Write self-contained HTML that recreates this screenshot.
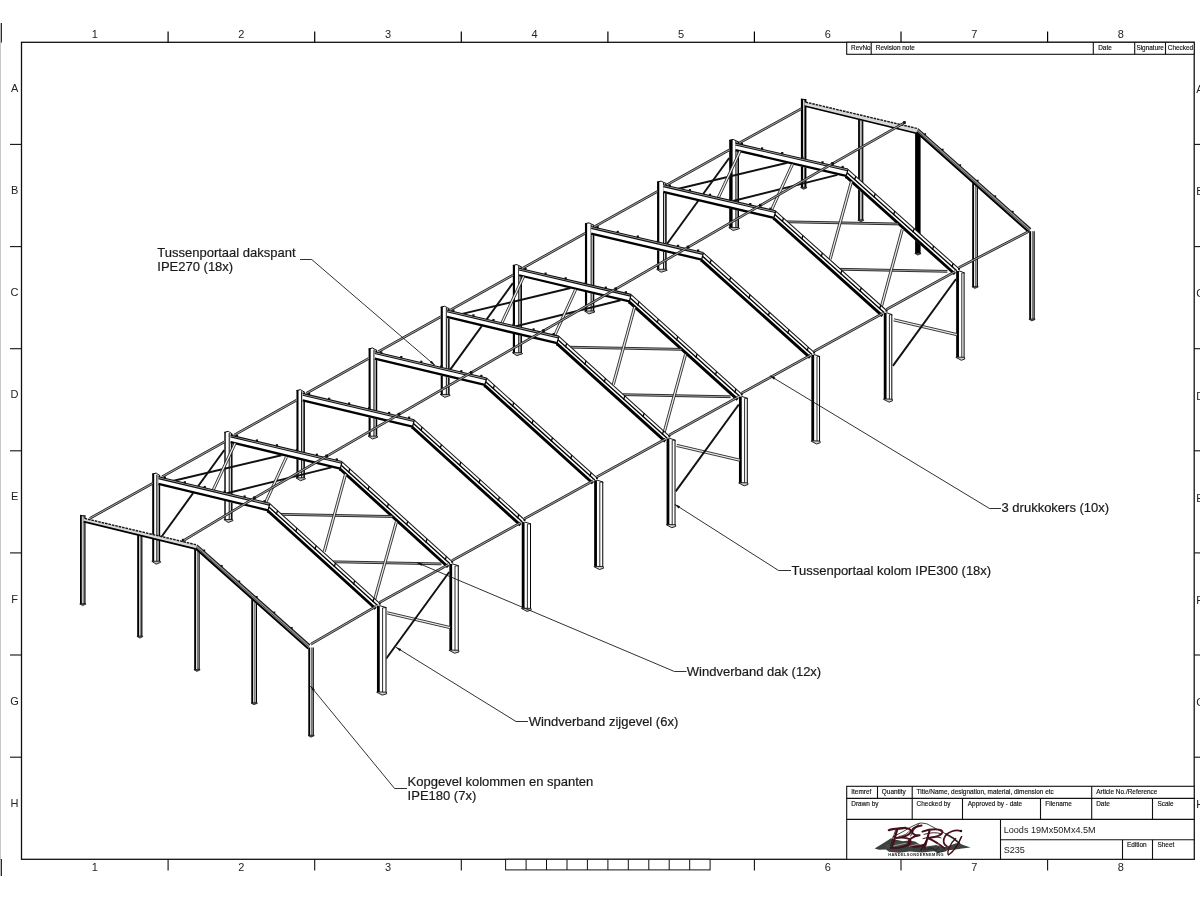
<!DOCTYPE html>
<html><head><meta charset="utf-8"><title>Loods 19Mx50Mx4.5M</title>
<style>
html,body{margin:0;padding:0;background:#fff;}
body{width:1200px;height:900px;overflow:hidden;font-family:"Liberation Sans",sans-serif;}
svg{display:block;will-change:transform;}
text{font-family:"Liberation Sans",sans-serif;fill:#111;}
.z{font-size:11px;fill:#222;}
.s{font-size:6.45px;fill:#111;stroke:#111;stroke-width:0.15;}
.m{font-size:9.1px;fill:#222;}
.l{font-size:13px;fill:#1a1a1a;stroke:#1a1a1a;stroke-width:0.2;}
</style></head><body>
<svg width="1200" height="900" viewBox="0 0 1200 900">
<rect width="1200" height="900" fill="#fff"/>
<g id="frame">
<line x1="0.5" y1="42" x2="0.5" y2="860" stroke="#c8c8c8" stroke-width="1"/>
<line x1="1.3" y1="23" x2="1.3" y2="42.5" stroke="#111" stroke-width="1.2"/>
<line x1="1.3" y1="859" x2="1.3" y2="876" stroke="#111" stroke-width="1.2"/>
<rect x="21.5" y="42.3" width="1172.7" height="817.0" fill="none" stroke="#111" stroke-width="1.3"/>
<line x1="168.1" y1="31.5" x2="168.1" y2="42.3" stroke="#000" stroke-width="1.2"/>
<line x1="168.1" y1="859.3" x2="168.1" y2="870.5" stroke="#111" stroke-width="1.1"/>
<line x1="10" y1="144.4" x2="21.5" y2="144.4" stroke="#111" stroke-width="1.1"/>
<line x1="1194.2" y1="144.4" x2="1200" y2="144.4" stroke="#111" stroke-width="1.1"/>
<line x1="314.7" y1="31.5" x2="314.7" y2="42.3" stroke="#000" stroke-width="1.2"/>
<line x1="314.7" y1="859.3" x2="314.7" y2="870.5" stroke="#111" stroke-width="1.1"/>
<line x1="10" y1="246.6" x2="21.5" y2="246.6" stroke="#111" stroke-width="1.1"/>
<line x1="1194.2" y1="246.6" x2="1200" y2="246.6" stroke="#111" stroke-width="1.1"/>
<line x1="461.3" y1="31.5" x2="461.3" y2="42.3" stroke="#000" stroke-width="1.2"/>
<line x1="461.3" y1="859.3" x2="461.3" y2="870.5" stroke="#111" stroke-width="1.1"/>
<line x1="10" y1="348.7" x2="21.5" y2="348.7" stroke="#111" stroke-width="1.1"/>
<line x1="1194.2" y1="348.7" x2="1200" y2="348.7" stroke="#111" stroke-width="1.1"/>
<line x1="607.9" y1="31.5" x2="607.9" y2="42.3" stroke="#000" stroke-width="1.2"/>
<line x1="10" y1="450.8" x2="21.5" y2="450.8" stroke="#111" stroke-width="1.1"/>
<line x1="1194.2" y1="450.8" x2="1200" y2="450.8" stroke="#111" stroke-width="1.1"/>
<line x1="754.4" y1="31.5" x2="754.4" y2="42.3" stroke="#000" stroke-width="1.2"/>
<line x1="754.4" y1="859.3" x2="754.4" y2="870.5" stroke="#111" stroke-width="1.1"/>
<line x1="10" y1="552.9" x2="21.5" y2="552.9" stroke="#111" stroke-width="1.1"/>
<line x1="1194.2" y1="552.9" x2="1200" y2="552.9" stroke="#111" stroke-width="1.1"/>
<line x1="901.0" y1="31.5" x2="901.0" y2="42.3" stroke="#000" stroke-width="1.2"/>
<line x1="901.0" y1="859.3" x2="901.0" y2="870.5" stroke="#111" stroke-width="1.1"/>
<line x1="10" y1="655.0" x2="21.5" y2="655.0" stroke="#111" stroke-width="1.1"/>
<line x1="1194.2" y1="655.0" x2="1200" y2="655.0" stroke="#111" stroke-width="1.1"/>
<line x1="1047.6" y1="31.5" x2="1047.6" y2="42.3" stroke="#000" stroke-width="1.2"/>
<line x1="1047.6" y1="859.3" x2="1047.6" y2="870.5" stroke="#111" stroke-width="1.1"/>
<line x1="10" y1="757.2" x2="21.5" y2="757.2" stroke="#111" stroke-width="1.1"/>
<line x1="1194.2" y1="757.2" x2="1200" y2="757.2" stroke="#111" stroke-width="1.1"/>
<text x="94.8" y="38.2" class="z" text-anchor="middle">1</text>
<text x="94.8" y="871" class="z" text-anchor="middle">1</text>
<text x="14.6" y="91.9" class="z" text-anchor="middle">A</text>
<text x="1196.3" y="93.2" class="z">A</text>
<text x="241.4" y="38.2" class="z" text-anchor="middle">2</text>
<text x="241.4" y="871" class="z" text-anchor="middle">2</text>
<text x="14.6" y="194.0" class="z" text-anchor="middle">B</text>
<text x="1196.3" y="195.3" class="z">B</text>
<text x="388.0" y="38.2" class="z" text-anchor="middle">3</text>
<text x="388.0" y="871" class="z" text-anchor="middle">3</text>
<text x="14.6" y="296.1" class="z" text-anchor="middle">C</text>
<text x="1196.3" y="297.4" class="z">C</text>
<text x="534.6" y="38.2" class="z" text-anchor="middle">4</text>
<text x="14.6" y="398.2" class="z" text-anchor="middle">D</text>
<text x="1196.3" y="399.5" class="z">D</text>
<text x="681.1" y="38.2" class="z" text-anchor="middle">5</text>
<text x="14.6" y="500.4" class="z" text-anchor="middle">E</text>
<text x="1196.3" y="501.7" class="z">E</text>
<text x="827.7" y="38.2" class="z" text-anchor="middle">6</text>
<text x="827.7" y="871" class="z" text-anchor="middle">6</text>
<text x="14.6" y="602.5" class="z" text-anchor="middle">F</text>
<text x="1196.3" y="603.8" class="z">F</text>
<text x="974.3" y="38.2" class="z" text-anchor="middle">7</text>
<text x="974.3" y="871" class="z" text-anchor="middle">7</text>
<text x="14.6" y="704.6" class="z" text-anchor="middle">G</text>
<text x="1196.3" y="705.9" class="z">G</text>
<text x="1120.9" y="38.2" class="z" text-anchor="middle">8</text>
<text x="1120.9" y="871" class="z" text-anchor="middle">8</text>
<text x="14.6" y="806.7" class="z" text-anchor="middle">H</text>
<text x="1196.3" y="808.0" class="z">H</text>
<rect x="505.6" y="859.3" width="204.5" height="10.6" fill="#fff" stroke="#111" stroke-width="1"/>
<line x1="526.1" y1="859.3" x2="526.1" y2="869.9" stroke="#111" stroke-width="1"/>
<line x1="546.5" y1="859.3" x2="546.5" y2="869.9" stroke="#111" stroke-width="1"/>
<line x1="567.0" y1="859.3" x2="567.0" y2="869.9" stroke="#111" stroke-width="1"/>
<line x1="587.4" y1="859.3" x2="587.4" y2="869.9" stroke="#111" stroke-width="1"/>
<line x1="607.9" y1="859.3" x2="607.9" y2="869.9" stroke="#111" stroke-width="1"/>
<line x1="628.3" y1="859.3" x2="628.3" y2="869.9" stroke="#111" stroke-width="1"/>
<line x1="648.8" y1="859.3" x2="648.8" y2="869.9" stroke="#111" stroke-width="1"/>
<line x1="669.2" y1="859.3" x2="669.2" y2="869.9" stroke="#111" stroke-width="1"/>
<line x1="689.7" y1="859.3" x2="689.7" y2="869.9" stroke="#111" stroke-width="1"/>
<rect x="846.7" y="42.3" width="347.5" height="12" fill="#fff" stroke="#111" stroke-width="1.1"/>
<line x1="871.2" y1="42.3" x2="871.2" y2="54.3" stroke="#111" stroke-width="1.1"/>
<line x1="1093.3" y1="42.3" x2="1093.3" y2="54.3" stroke="#111" stroke-width="1.1"/>
<line x1="1134.7" y1="42.3" x2="1134.7" y2="54.3" stroke="#111" stroke-width="1.1"/>
<line x1="1165.5" y1="42.3" x2="1165.5" y2="54.3" stroke="#111" stroke-width="1.1"/>
<text x="851.0" y="50.3" class="s">RevNo</text>
<text x="875.8" y="50.3" class="s">Revision note</text>
<text x="1098.2" y="50.3" class="s">Date</text>
<text x="1136.4" y="50.3" class="s">Signature</text>
<text x="1167.8" y="50.3" class="s">Checked</text>
<rect x="846.7" y="786.3" width="347.5" height="73.0" fill="#fff" stroke="#111" stroke-width="1.1"/>
<line x1="846.7" y1="798.4" x2="1194.2" y2="798.4" stroke="#111" stroke-width="1.1"/>
<line x1="846.7" y1="819.4" x2="1194.2" y2="819.4" stroke="#111" stroke-width="1.1"/>
<line x1="1000.5" y1="839.8" x2="1194.2" y2="839.8" stroke="#111" stroke-width="1.1"/>
<line x1="877.5" y1="786.3" x2="877.5" y2="798.4" stroke="#111" stroke-width="1.1"/>
<line x1="912.2" y1="786.3" x2="912.2" y2="798.4" stroke="#111" stroke-width="1.1"/>
<line x1="1091.7" y1="786.3" x2="1091.7" y2="798.4" stroke="#111" stroke-width="1.1"/>
<line x1="912.2" y1="798.4" x2="912.2" y2="819.4" stroke="#111" stroke-width="1.1"/>
<line x1="962.5" y1="798.4" x2="962.5" y2="819.4" stroke="#111" stroke-width="1.1"/>
<line x1="1040.5" y1="798.4" x2="1040.5" y2="819.4" stroke="#111" stroke-width="1.1"/>
<line x1="1091.7" y1="798.4" x2="1091.7" y2="819.4" stroke="#111" stroke-width="1.1"/>
<line x1="1152.5" y1="798.4" x2="1152.5" y2="819.4" stroke="#111" stroke-width="1.1"/>
<line x1="1000.5" y1="819.4" x2="1000.5" y2="859.3" stroke="#111" stroke-width="1.1"/>
<line x1="1122.5" y1="839.8" x2="1122.5" y2="859.3" stroke="#111" stroke-width="1.1"/>
<line x1="1152.5" y1="839.8" x2="1152.5" y2="859.3" stroke="#111" stroke-width="1.1"/>
<text x="851.3" y="793.6" class="s">Itemref</text>
<text x="881.8" y="793.6" class="s">Quantity</text>
<text x="916.6" y="793.6" class="s">Title/Name, designation, material, dimension etc</text>
<text x="1096.2" y="793.6" class="s">Article No./Reference</text>
<text x="851.3" y="805.8" class="s">Drawn by</text>
<text x="916.6" y="805.8" class="s">Checked by</text>
<text x="967.8" y="805.8" class="s">Approved by - date</text>
<text x="1045.3" y="805.8" class="s">Filename</text>
<text x="1096.2" y="805.8" class="s">Date</text>
<text x="1157.5" y="805.8" class="s">Scale</text>
<text x="1127" y="847.0" class="s">Edition</text>
<text x="1157.5" y="847.0" class="s">Sheet</text>
<text x="1003.7" y="832.6" class="m">Loods 19Mx50Mx4.5M</text>
<text x="1003.7" y="853.4" class="m">S235</text>
</g>
<g id="structure" stroke-linecap="butt">
<rect x="800.9" y="99" width="5.5" height="88.9" fill="#e8e8e8"/>
<line x1="802" y1="99" x2="802" y2="187.9" stroke="#000" stroke-width="2.2" />
<line x1="805.4" y1="99" x2="805.4" y2="187.9" stroke="#000" stroke-width="2.0" />
<polygon points="800.6,187.6 803.5,189.3 806.8,187.9 806.4,187.1" fill="#555" stroke="#111" stroke-width="0.7" />
<rect x="858.1" y="118.2" width="5.2" height="102.2" fill="#e4e4e4"/>
<line x1="859" y1="118.2" x2="859" y2="220.4" stroke="#000" stroke-width="1.8" />
<line x1="862.7" y1="118.2" x2="862.7" y2="220.4" stroke="#000" stroke-width="1.2" />
<line x1="861.2" y1="118.2" x2="861.2" y2="220.4" stroke="#555" stroke-width="0.8" />
<polygon points="857.8,220.1 860.7,221.8 863.7,220.4 863.3,219.6" fill="#555" stroke="#111" stroke-width="0.7" />
<rect x="915.1" y="132.2" width="5.5" height="121.5" fill="#000"/>
<polygon points="914.8,253.4 917.7,255.1 921,253.7 920.6,252.9" fill="#555" stroke="#111" stroke-width="0.7" />
<rect x="972.2" y="182.7" width="5.7" height="104.3" fill="#e4e4e4"/>
<line x1="973.1" y1="182.7" x2="973.1" y2="287" stroke="#000" stroke-width="1.8" />
<line x1="977.3" y1="182.7" x2="977.3" y2="287" stroke="#000" stroke-width="1.2" />
<line x1="975.55" y1="182.7" x2="975.55" y2="287" stroke="#555" stroke-width="0.8" />
<polygon points="971.9,286.7 974.8,288.4 978.3,287 977.9,286.2" fill="#555" stroke="#111" stroke-width="0.7" />
<rect x="1029.2" y="231.2" width="5.5" height="88.3" fill="#e4e4e4"/>
<line x1="1030.1" y1="231.2" x2="1030.1" y2="319.5" stroke="#000" stroke-width="1.8" />
<line x1="1034.1" y1="231.2" x2="1034.1" y2="319.5" stroke="#000" stroke-width="1.2" />
<line x1="1032.45" y1="231.2" x2="1032.45" y2="319.5" stroke="#555" stroke-width="0.8" />
<polygon points="1028.9,319.2 1031.8,320.9 1035.1,319.5 1034.7,318.7" fill="#555" stroke="#111" stroke-width="0.7" />
<polygon points="804.5,101.9 917.9,128.6 917.3,133.9 804.5,106.4" fill="#d8d8d8" stroke="none" stroke-width="1" />
<line x1="805.5" y1="102.1" x2="916.9" y2="128.4" stroke="#1a1a1a" stroke-width="1.45" stroke-dasharray="2.6 0.9"/>
<line x1="804.5" y1="106" x2="917.3" y2="133.5" stroke="#000" stroke-width="1.7" />
<polygon points="917.9,128.6 1030.9,228.7 1028.7,232.9 916.3,133" fill="#a2a2a2" stroke="none" stroke-width="1" />
<line x1="917.9" y1="128.6" x2="1030.9" y2="228.7" stroke="#1a1a1a" stroke-width="1.2" />
<line x1="917.1" y1="130.5" x2="1029.9" y2="230.6" stroke="#333" stroke-width="0.8" />
<line x1="916.5" y1="132.2" x2="1029.1" y2="232.3" stroke="#000" stroke-width="1.9" />
<rect x="924.28" y="133.21" width="1.8" height="1.8" fill="#111"/>
<rect x="941.8" y="148.72" width="1.8" height="1.8" fill="#111"/>
<rect x="959.31" y="164.24" width="1.8" height="1.8" fill="#111"/>
<rect x="976.83" y="179.75" width="1.8" height="1.8" fill="#111"/>
<rect x="994.34" y="195.27" width="1.8" height="1.8" fill="#111"/>
<rect x="1011.86" y="210.78" width="1.8" height="1.8" fill="#111"/>
<line x1="800.9" y1="99" x2="805.5" y2="99.7" stroke="#000" stroke-width="1" />
<polygon points="739.42,143.89 801.62,109.57 800.78,108.03 738.58,142.35" fill="#a4a4a4" stroke="none" stroke-width="1" />
<line x1="739.42" y1="143.89" x2="801.62" y2="109.57" stroke="#1c1c1c" stroke-width="0.9" />
<line x1="738.58" y1="142.35" x2="800.78" y2="108.03" stroke="#1c1c1c" stroke-width="0.9" />
<polygon points="832.99,164.44 904.93,123.46 904.07,121.94 832.13,162.92" fill="#a4a4a4" stroke="none" stroke-width="1" />
<line x1="832.99" y1="164.44" x2="904.93" y2="123.46" stroke="#1c1c1c" stroke-width="0.9" />
<line x1="832.13" y1="162.92" x2="904.07" y2="121.94" stroke="#1c1c1c" stroke-width="0.9" />
<rect x="903.2" y="121.1" width="2.6" height="2.8" fill="#111"/>
<polygon points="959.1,268.48 1028.7,232.48 1027.9,230.92 958.3,266.92" fill="#a4a4a4" stroke="none" stroke-width="1" />
<line x1="959.1" y1="268.48" x2="1028.7" y2="232.48" stroke="#1c1c1c" stroke-width="0.9" />
<line x1="958.3" y1="266.92" x2="1027.9" y2="230.92" stroke="#1c1c1c" stroke-width="0.9" />
<polygon points="729.2,140.02 738.94,141.52 738.94,228.02 729.2,228.02" fill="#fff" stroke="none" stroke-width="1" />
<rect x="735.88" y="141.02" width="2.56" height="87" fill="#d0d0d0"/>
<line x1="730.9" y1="140.02" x2="730.9" y2="228.02" stroke="#000" stroke-width="3.4" />
<line x1="735.88" y1="141.02" x2="735.88" y2="228.02" stroke="#161616" stroke-width="1.0" />
<line x1="738.29" y1="142.02" x2="738.29" y2="228.02" stroke="#000" stroke-width="1.45" />
<line x1="729.2" y1="140.32" x2="733.2" y2="139.42" stroke="#000" stroke-width="1" />
<line x1="733.2" y1="139.42" x2="738.94" y2="142.02" stroke="#000" stroke-width="0.9" />
<polygon points="728.8,227.62 733.2,230.52 739.54,228.62 738.94,227.52" fill="#bbb" stroke="#111" stroke-width="0.9" />
<polygon points="735.4,143.12 847.96,168.98 846.16,176.98 735.4,151.12" fill="#fff" stroke="none" stroke-width="1" />
<polygon points="735.4,143.12 847.96,168.98 847.46,170.78 735.4,144.92" fill="#b4b4b4" stroke="none" stroke-width="1" />
<line x1="735.4" y1="143.12" x2="847.96" y2="168.98" stroke="#111" stroke-width="1.1" />
<line x1="735.4" y1="144.92" x2="847.46" y2="170.78" stroke="#111" stroke-width="1.1" />
<line x1="735.4" y1="150.12" x2="846.16" y2="175.98" stroke="#000" stroke-width="2.3" />
<rect x="740.83" y="142.72" width="2.2" height="2.2" fill="#111"/>
<rect x="760.98" y="147.35" width="2.2" height="2.2" fill="#111"/>
<rect x="781.12" y="151.98" width="2.2" height="2.2" fill="#111"/>
<rect x="801.27" y="156.61" width="2.2" height="2.2" fill="#111"/>
<rect x="821.42" y="161.24" width="2.2" height="2.2" fill="#111"/>
<rect x="841.57" y="165.86" width="2.2" height="2.2" fill="#111"/>
<polygon points="847.96,169.28 959.2,268.9 954.6,275.3 845.56,177.98" fill="#fff" stroke="none" stroke-width="1" />
<line x1="847.96" y1="169.28" x2="959.2" y2="268.9" stroke="#1a1a1a" stroke-width="1.05" />
<line x1="847.06" y1="172.68" x2="956.8" y2="270.8" stroke="#000" stroke-width="1.35" />
<line x1="845.96" y1="176.48" x2="954.8" y2="274" stroke="#000" stroke-width="2.9" />
<rect x="958" y="268" width="1.9" height="1.9" fill="#111"/>
<line x1="847.96" y1="169.28" x2="845.56" y2="178.28" stroke="#000" stroke-width="1.2" />
<line x1="855.82" y1="176.25" x2="854.52" y2="180.05" stroke="#000" stroke-width="1.3" />
<line x1="875.29" y1="193.69" x2="873.99" y2="197.49" stroke="#000" stroke-width="1.3" />
<line x1="894.76" y1="211.12" x2="893.46" y2="214.92" stroke="#000" stroke-width="1.3" />
<line x1="914.23" y1="228.55" x2="912.93" y2="232.35" stroke="#000" stroke-width="1.3" />
<line x1="933.69" y1="245.99" x2="932.39" y2="249.79" stroke="#000" stroke-width="1.3" />
<line x1="953.16" y1="263.42" x2="951.86" y2="267.22" stroke="#000" stroke-width="1.3" />
<polygon points="956.2,271 960.2,270.5 964.48,272.8 964.48,357.6 956.2,357.6" fill="#fff" stroke="none" stroke-width="1" />
<line x1="957.55" y1="271" x2="957.55" y2="357.6" stroke="#000" stroke-width="2.8" />
<line x1="961.8" y1="273" x2="961.8" y2="359.1" stroke="#222" stroke-width="0.95" />
<line x1="964.08" y1="272.8" x2="964.08" y2="358.2" stroke="#000" stroke-width="1.0" />
<line x1="958.8" y1="270.8" x2="964.48" y2="272.8" stroke="#000" stroke-width="0.9" />
<line x1="961.8" y1="273" x2="964.48" y2="272.8" stroke="#000" stroke-width="0.7" />
<polygon points="955.9,357.4 961.4,360.3 964.78,359 964.48,357.3 956.2,357.1" fill="#ccc" stroke="#111" stroke-width="0.9" />
<line x1="729.2" y1="158.02" x2="665.88" y2="245.53" stroke="#111" stroke-width="1.95" />
<line x1="664.88" y1="192.03" x2="787.36" y2="162.68" stroke="#111" stroke-width="1.95" />
<line x1="716.88" y1="205.03" x2="837.36" y2="174.88" stroke="#111" stroke-width="1.95" />
<polygon points="739.03,150.86 716.6,198.77 718.55,199.69 740.97,151.78" fill="#ececec" stroke="none" stroke-width="1" />
<line x1="739.03" y1="150.86" x2="716.6" y2="198.77" stroke="#1a1a1a" stroke-width="0.85" />
<line x1="740.97" y1="151.78" x2="718.55" y2="199.69" stroke="#1a1a1a" stroke-width="0.85" />
<polygon points="791.38,163.93 770.21,210.22 772.17,211.12 793.34,164.83" fill="#ececec" stroke="none" stroke-width="1" />
<line x1="791.38" y1="163.93" x2="770.21" y2="210.22" stroke="#1a1a1a" stroke-width="0.85" />
<line x1="793.34" y1="164.83" x2="772.17" y2="211.12" stroke="#1a1a1a" stroke-width="0.85" />
<polygon points="784.17,222.67 898.14,224.88 898.18,223.08 784.21,220.87" fill="#b0b0b0" stroke="none" stroke-width="1" />
<line x1="784.17" y1="222.67" x2="898.14" y2="224.88" stroke="#111" stroke-width="0.85" />
<line x1="784.21" y1="220.87" x2="898.18" y2="223.08" stroke="#111" stroke-width="0.85" />
<polygon points="850.42,181.29 829.05,258.88 831.13,259.46 852.5,181.87" fill="#ececec" stroke="none" stroke-width="1" />
<line x1="850.42" y1="181.29" x2="829.05" y2="258.88" stroke="#1a1a1a" stroke-width="0.85" />
<line x1="852.5" y1="181.87" x2="831.13" y2="259.46" stroke="#1a1a1a" stroke-width="0.85" />
<polygon points="839.17,270.17 947.34,272.28 947.38,270.48 839.21,268.37" fill="#b0b0b0" stroke="none" stroke-width="1" />
<line x1="839.17" y1="270.17" x2="947.34" y2="272.28" stroke="#111" stroke-width="0.85" />
<line x1="839.21" y1="268.37" x2="947.38" y2="270.48" stroke="#111" stroke-width="0.85" />
<polygon points="901.32,228.8 879.16,310.77 881.24,311.33 903.4,229.36" fill="#ececec" stroke="none" stroke-width="1" />
<line x1="901.32" y1="228.8" x2="879.16" y2="310.77" stroke="#1a1a1a" stroke-width="0.85" />
<line x1="903.4" y1="229.36" x2="881.24" y2="311.33" stroke="#1a1a1a" stroke-width="0.85" />
<polygon points="893.55,320.9 956.55,335.65 957.05,333.55 894.05,318.8" fill="#ececec" stroke="none" stroke-width="1" />
<line x1="893.55" y1="320.9" x2="956.55" y2="335.65" stroke="#1a1a1a" stroke-width="0.85" />
<line x1="894.05" y1="318.8" x2="957.05" y2="333.55" stroke="#1a1a1a" stroke-width="0.85" />
<line x1="956" y1="279" x2="892.9" y2="365.85" stroke="#111" stroke-width="1.95" />
<polygon points="667.3,185.59 729.93,150.58 729.07,149.06 666.45,184.07" fill="#a4a4a4" stroke="none" stroke-width="1" />
<line x1="667.3" y1="185.59" x2="729.93" y2="150.58" stroke="#1c1c1c" stroke-width="0.9" />
<line x1="666.45" y1="184.07" x2="729.07" y2="149.06" stroke="#1c1c1c" stroke-width="0.9" />
<polygon points="760.73,206.23 833,164.44 832.12,162.92 759.85,204.71" fill="#a4a4a4" stroke="none" stroke-width="1" />
<line x1="760.73" y1="206.23" x2="833" y2="164.44" stroke="#1c1c1c" stroke-width="0.9" />
<line x1="759.85" y1="204.71" x2="832.12" y2="162.92" stroke="#1c1c1c" stroke-width="0.9" />
<rect x="831.26" y="162.08" width="2.6" height="2.8" fill="#111"/>
<polygon points="886.72,310.32 955.72,272.27 954.88,270.73 885.88,308.78" fill="#a4a4a4" stroke="none" stroke-width="1" />
<line x1="886.72" y1="310.32" x2="955.72" y2="272.27" stroke="#1c1c1c" stroke-width="0.9" />
<line x1="885.88" y1="308.78" x2="954.88" y2="270.73" stroke="#1c1c1c" stroke-width="0.9" />
<polygon points="657.08,181.73 666.59,183.23 666.59,269.73 657.08,269.73" fill="#fff" stroke="none" stroke-width="1" />
<rect x="663.5" y="182.73" width="2.59" height="87" fill="#d0d0d0"/>
<line x1="658.18" y1="181.73" x2="658.18" y2="269.73" stroke="#000" stroke-width="2.21" />
<line x1="663.5" y1="182.73" x2="663.5" y2="269.73" stroke="#161616" stroke-width="1.0" />
<line x1="665.94" y1="183.73" x2="665.94" y2="269.73" stroke="#000" stroke-width="1.45" />
<line x1="657.08" y1="182.03" x2="661.08" y2="181.13" stroke="#000" stroke-width="1" />
<line x1="661.08" y1="181.13" x2="666.59" y2="183.73" stroke="#000" stroke-width="0.9" />
<polygon points="656.68,269.33 661.08,272.23 667.19,270.33 666.59,269.23" fill="#bbb" stroke="#111" stroke-width="0.9" />
<polygon points="663.28,184.83 775.69,210.77 773.89,218.77 663.28,192.83" fill="#fff" stroke="none" stroke-width="1" />
<polygon points="663.28,184.83 775.69,210.77 775.19,212.57 663.28,186.63" fill="#b4b4b4" stroke="none" stroke-width="1" />
<line x1="663.28" y1="184.83" x2="775.69" y2="210.77" stroke="#111" stroke-width="1.1" />
<line x1="663.28" y1="186.63" x2="775.19" y2="212.57" stroke="#111" stroke-width="1.1" />
<line x1="663.28" y1="191.83" x2="773.89" y2="217.77" stroke="#000" stroke-width="2.3" />
<rect x="668.7" y="184.43" width="2.2" height="2.2" fill="#111"/>
<rect x="688.82" y="189.08" width="2.2" height="2.2" fill="#111"/>
<rect x="708.94" y="193.72" width="2.2" height="2.2" fill="#111"/>
<rect x="729.06" y="198.36" width="2.2" height="2.2" fill="#111"/>
<rect x="749.18" y="203.01" width="2.2" height="2.2" fill="#111"/>
<rect x="769.31" y="207.65" width="2.2" height="2.2" fill="#111"/>
<polygon points="775.69,211.07 886.8,310.75 882.2,317.15 773.29,219.77" fill="#fff" stroke="none" stroke-width="1" />
<line x1="775.69" y1="211.07" x2="886.8" y2="310.75" stroke="#1a1a1a" stroke-width="1.05" />
<line x1="774.79" y1="214.47" x2="884.4" y2="312.65" stroke="#000" stroke-width="1.35" />
<line x1="773.69" y1="218.27" x2="882.4" y2="315.85" stroke="#000" stroke-width="2.9" />
<rect x="885.6" y="309.85" width="1.9" height="1.9" fill="#111"/>
<line x1="775.69" y1="211.07" x2="773.29" y2="220.07" stroke="#000" stroke-width="1.2" />
<line x1="783.55" y1="218.05" x2="782.25" y2="221.85" stroke="#000" stroke-width="1.3" />
<line x1="802.99" y1="235.49" x2="801.69" y2="239.29" stroke="#000" stroke-width="1.3" />
<line x1="822.43" y1="252.94" x2="821.13" y2="256.74" stroke="#000" stroke-width="1.3" />
<line x1="841.88" y1="270.38" x2="840.58" y2="274.18" stroke="#000" stroke-width="1.3" />
<line x1="861.32" y1="287.82" x2="860.02" y2="291.62" stroke="#000" stroke-width="1.3" />
<line x1="880.77" y1="305.27" x2="879.47" y2="309.07" stroke="#000" stroke-width="1.3" />
<polygon points="883.8,312.85 887.8,312.35 892.22,314.65 892.22,399.45 883.8,399.45" fill="#fff" stroke="none" stroke-width="1" />
<line x1="885.15" y1="312.85" x2="885.15" y2="399.45" stroke="#000" stroke-width="2.8" />
<line x1="889.4" y1="314.85" x2="889.4" y2="400.95" stroke="#222" stroke-width="0.95" />
<line x1="891.82" y1="314.65" x2="891.82" y2="400.05" stroke="#000" stroke-width="1.0" />
<line x1="886.4" y1="312.65" x2="892.22" y2="314.65" stroke="#000" stroke-width="0.9" />
<line x1="889.4" y1="314.85" x2="892.22" y2="314.65" stroke="#000" stroke-width="0.7" />
<polygon points="883.5,399.25 889,402.15 892.52,400.85 892.22,399.15 883.8,398.95" fill="#ccc" stroke="#111" stroke-width="0.9" />
<polygon points="595.18,227.3 657.8,192.29 656.95,190.77 594.32,225.78" fill="#a4a4a4" stroke="none" stroke-width="1" />
<line x1="595.18" y1="227.3" x2="657.8" y2="192.29" stroke="#1c1c1c" stroke-width="0.9" />
<line x1="594.32" y1="225.78" x2="656.95" y2="190.77" stroke="#1c1c1c" stroke-width="0.9" />
<polygon points="688.46,248.02 760.73,206.23 759.85,204.71 687.58,246.5" fill="#a4a4a4" stroke="none" stroke-width="1" />
<line x1="688.46" y1="248.02" x2="760.73" y2="206.23" stroke="#1c1c1c" stroke-width="0.9" />
<line x1="687.58" y1="246.5" x2="759.85" y2="204.71" stroke="#1c1c1c" stroke-width="0.9" />
<rect x="758.99" y="203.87" width="2.6" height="2.8" fill="#111"/>
<polygon points="814.32,352.17 883.32,314.12 882.48,312.58 813.48,350.63" fill="#a4a4a4" stroke="none" stroke-width="1" />
<line x1="814.32" y1="352.17" x2="883.32" y2="314.12" stroke="#1c1c1c" stroke-width="0.9" />
<line x1="813.48" y1="350.63" x2="882.48" y2="312.58" stroke="#1c1c1c" stroke-width="0.9" />
<polygon points="584.95,223.44 594.23,224.94 594.23,311.44 584.95,311.44" fill="#fff" stroke="none" stroke-width="1" />
<rect x="591.11" y="224.44" width="2.62" height="87" fill="#d0d0d0"/>
<line x1="586.04" y1="223.44" x2="586.04" y2="311.44" stroke="#000" stroke-width="2.18" />
<line x1="591.11" y1="224.44" x2="591.11" y2="311.44" stroke="#161616" stroke-width="1.0" />
<line x1="593.58" y1="225.44" x2="593.58" y2="311.44" stroke="#000" stroke-width="1.45" />
<line x1="584.95" y1="223.74" x2="588.95" y2="222.84" stroke="#000" stroke-width="1" />
<line x1="588.95" y1="222.84" x2="594.23" y2="225.44" stroke="#000" stroke-width="0.9" />
<polygon points="584.55,311.04 588.95,313.94 594.83,312.04 594.23,310.94" fill="#bbb" stroke="#111" stroke-width="0.9" />
<polygon points="591.15,226.54 703.42,252.56 701.62,260.56 591.15,234.54" fill="#fff" stroke="none" stroke-width="1" />
<polygon points="591.15,226.54 703.42,252.56 702.92,254.36 591.15,228.34" fill="#b4b4b4" stroke="none" stroke-width="1" />
<line x1="591.15" y1="226.54" x2="703.42" y2="252.56" stroke="#111" stroke-width="1.1" />
<line x1="591.15" y1="228.34" x2="702.92" y2="254.36" stroke="#111" stroke-width="1.1" />
<line x1="591.15" y1="233.54" x2="701.62" y2="259.56" stroke="#000" stroke-width="2.3" />
<rect x="596.56" y="226.15" width="2.2" height="2.2" fill="#111"/>
<rect x="616.66" y="230.81" width="2.2" height="2.2" fill="#111"/>
<rect x="636.75" y="235.46" width="2.2" height="2.2" fill="#111"/>
<rect x="656.85" y="240.12" width="2.2" height="2.2" fill="#111"/>
<rect x="676.95" y="244.78" width="2.2" height="2.2" fill="#111"/>
<rect x="697.04" y="249.44" width="2.2" height="2.2" fill="#111"/>
<polygon points="703.42,252.86 814.4,352.6 809.8,359 701.02,261.56" fill="#fff" stroke="none" stroke-width="1" />
<line x1="703.42" y1="252.86" x2="814.4" y2="352.6" stroke="#1a1a1a" stroke-width="1.05" />
<line x1="702.52" y1="256.26" x2="812" y2="354.5" stroke="#000" stroke-width="1.35" />
<line x1="701.42" y1="260.06" x2="810" y2="357.7" stroke="#000" stroke-width="2.9" />
<rect x="813.2" y="351.7" width="1.9" height="1.9" fill="#111"/>
<line x1="703.42" y1="252.86" x2="701.02" y2="261.86" stroke="#000" stroke-width="1.2" />
<line x1="711.27" y1="259.84" x2="709.97" y2="263.64" stroke="#000" stroke-width="1.3" />
<line x1="730.69" y1="277.3" x2="729.39" y2="281.1" stroke="#000" stroke-width="1.3" />
<line x1="750.11" y1="294.75" x2="748.81" y2="298.55" stroke="#000" stroke-width="1.3" />
<line x1="769.53" y1="312.21" x2="768.23" y2="316.01" stroke="#000" stroke-width="1.3" />
<line x1="788.95" y1="329.66" x2="787.65" y2="333.46" stroke="#000" stroke-width="1.3" />
<line x1="808.37" y1="347.11" x2="807.07" y2="350.91" stroke="#000" stroke-width="1.3" />
<polygon points="811.4,354.7 815.4,354.2 819.96,356.5 819.96,441.3 811.4,441.3" fill="#fff" stroke="none" stroke-width="1" />
<line x1="812.75" y1="354.7" x2="812.75" y2="441.3" stroke="#000" stroke-width="2.8" />
<line x1="817" y1="356.7" x2="817" y2="442.8" stroke="#222" stroke-width="0.95" />
<line x1="819.56" y1="356.5" x2="819.56" y2="441.9" stroke="#000" stroke-width="1.0" />
<line x1="814" y1="354.5" x2="819.96" y2="356.5" stroke="#000" stroke-width="0.9" />
<line x1="817" y1="356.7" x2="819.96" y2="356.5" stroke="#000" stroke-width="0.7" />
<polygon points="811.1,441.1 816.6,444 820.26,442.7 819.96,441 811.4,440.8" fill="#ccc" stroke="#111" stroke-width="0.9" />
<polygon points="523.05,269.01 585.68,234 584.82,232.48 522.2,267.49" fill="#a4a4a4" stroke="none" stroke-width="1" />
<line x1="523.05" y1="269.01" x2="585.68" y2="234" stroke="#1c1c1c" stroke-width="0.9" />
<line x1="522.2" y1="267.49" x2="584.82" y2="232.48" stroke="#1c1c1c" stroke-width="0.9" />
<polygon points="616.19,289.81 688.46,248.02 687.58,246.5 615.31,288.29" fill="#a4a4a4" stroke="none" stroke-width="1" />
<line x1="616.19" y1="289.81" x2="688.46" y2="248.02" stroke="#1c1c1c" stroke-width="0.9" />
<line x1="615.31" y1="288.29" x2="687.58" y2="246.5" stroke="#1c1c1c" stroke-width="0.9" />
<rect x="686.72" y="245.66" width="2.6" height="2.8" fill="#111"/>
<polygon points="741.92,394.02 810.92,355.97 810.08,354.43 741.08,392.48" fill="#a4a4a4" stroke="none" stroke-width="1" />
<line x1="741.92" y1="394.02" x2="810.92" y2="355.97" stroke="#1c1c1c" stroke-width="0.9" />
<line x1="741.08" y1="392.48" x2="810.08" y2="354.43" stroke="#1c1c1c" stroke-width="0.9" />
<polygon points="512.83,265.15 521.88,266.65 521.88,353.15 512.83,353.15" fill="#fff" stroke="none" stroke-width="1" />
<rect x="518.73" y="266.15" width="2.65" height="87" fill="#d0d0d0"/>
<line x1="513.9" y1="265.15" x2="513.9" y2="353.15" stroke="#000" stroke-width="2.15" />
<line x1="518.73" y1="266.15" x2="518.73" y2="353.15" stroke="#161616" stroke-width="1.0" />
<line x1="521.23" y1="267.15" x2="521.23" y2="353.15" stroke="#000" stroke-width="1.45" />
<line x1="512.83" y1="265.45" x2="516.83" y2="264.55" stroke="#000" stroke-width="1" />
<line x1="516.83" y1="264.55" x2="521.88" y2="267.15" stroke="#000" stroke-width="0.9" />
<polygon points="512.43,352.75 516.83,355.65 522.48,353.75 521.88,352.65" fill="#bbb" stroke="#111" stroke-width="0.9" />
<polygon points="519.03,268.25 631.15,294.35 629.35,302.35 519.03,276.25" fill="#fff" stroke="none" stroke-width="1" />
<polygon points="519.03,268.25 631.15,294.35 630.65,296.15 519.03,270.05" fill="#b4b4b4" stroke="none" stroke-width="1" />
<line x1="519.03" y1="268.25" x2="631.15" y2="294.35" stroke="#111" stroke-width="1.1" />
<line x1="519.03" y1="270.05" x2="630.65" y2="296.15" stroke="#111" stroke-width="1.1" />
<line x1="519.03" y1="275.25" x2="629.35" y2="301.35" stroke="#000" stroke-width="2.3" />
<rect x="524.43" y="267.86" width="2.2" height="2.2" fill="#111"/>
<rect x="544.5" y="272.54" width="2.2" height="2.2" fill="#111"/>
<rect x="564.57" y="277.21" width="2.2" height="2.2" fill="#111"/>
<rect x="584.64" y="281.88" width="2.2" height="2.2" fill="#111"/>
<rect x="604.71" y="286.55" width="2.2" height="2.2" fill="#111"/>
<rect x="624.78" y="291.22" width="2.2" height="2.2" fill="#111"/>
<polygon points="631.15,294.65 742,394.45 737.4,400.85 628.75,303.35" fill="#fff" stroke="none" stroke-width="1" />
<line x1="631.15" y1="294.65" x2="742" y2="394.45" stroke="#1a1a1a" stroke-width="1.05" />
<line x1="630.25" y1="298.05" x2="739.6" y2="396.35" stroke="#000" stroke-width="1.35" />
<line x1="629.15" y1="301.85" x2="737.6" y2="399.55" stroke="#000" stroke-width="2.9" />
<rect x="740.8" y="393.55" width="1.9" height="1.9" fill="#111"/>
<line x1="631.15" y1="294.65" x2="628.75" y2="303.65" stroke="#000" stroke-width="1.2" />
<line x1="638.99" y1="301.64" x2="637.69" y2="305.44" stroke="#000" stroke-width="1.3" />
<line x1="658.39" y1="319.1" x2="657.09" y2="322.9" stroke="#000" stroke-width="1.3" />
<line x1="677.79" y1="336.57" x2="676.49" y2="340.37" stroke="#000" stroke-width="1.3" />
<line x1="697.18" y1="354.03" x2="695.88" y2="357.83" stroke="#000" stroke-width="1.3" />
<line x1="716.58" y1="371.5" x2="715.28" y2="375.3" stroke="#000" stroke-width="1.3" />
<line x1="735.98" y1="388.96" x2="734.68" y2="392.76" stroke="#000" stroke-width="1.3" />
<polygon points="739,396.55 743,396.05 747.7,398.35 747.7,483.15 739,483.15" fill="#fff" stroke="none" stroke-width="1" />
<line x1="740.35" y1="396.55" x2="740.35" y2="483.15" stroke="#000" stroke-width="2.8" />
<line x1="744.6" y1="398.55" x2="744.6" y2="484.65" stroke="#222" stroke-width="0.95" />
<line x1="747.3" y1="398.35" x2="747.3" y2="483.75" stroke="#000" stroke-width="1.0" />
<line x1="741.6" y1="396.35" x2="747.7" y2="398.35" stroke="#000" stroke-width="0.9" />
<line x1="744.6" y1="398.55" x2="747.7" y2="398.35" stroke="#000" stroke-width="0.7" />
<polygon points="738.7,482.95 744.2,485.85 748,484.55 747.7,482.85 739,482.65" fill="#ccc" stroke="#111" stroke-width="0.9" />
<line x1="512.83" y1="283.15" x2="449.5" y2="370.66" stroke="#111" stroke-width="1.95" />
<line x1="448.5" y1="317.16" x2="570.55" y2="288.05" stroke="#111" stroke-width="1.95" />
<line x1="500.5" y1="330.16" x2="620.55" y2="300.25" stroke="#111" stroke-width="1.95" />
<polygon points="522.65,275.99 500.23,323.9 502.17,324.82 524.6,276.91" fill="#ececec" stroke="none" stroke-width="1" />
<line x1="522.65" y1="275.99" x2="500.23" y2="323.9" stroke="#1a1a1a" stroke-width="0.85" />
<line x1="524.6" y1="276.91" x2="502.17" y2="324.82" stroke="#1a1a1a" stroke-width="0.85" />
<polygon points="574.57,289.3 553.4,335.59 555.36,336.49 576.53,290.2" fill="#ececec" stroke="none" stroke-width="1" />
<line x1="574.57" y1="289.3" x2="553.4" y2="335.59" stroke="#1a1a1a" stroke-width="0.85" />
<line x1="576.53" y1="290.2" x2="555.36" y2="336.49" stroke="#1a1a1a" stroke-width="0.85" />
<polygon points="567.36,348.04 681.33,350.25 681.37,348.45 567.4,346.24" fill="#b0b0b0" stroke="none" stroke-width="1" />
<line x1="567.36" y1="348.04" x2="681.33" y2="350.25" stroke="#111" stroke-width="0.85" />
<line x1="567.4" y1="346.24" x2="681.37" y2="348.45" stroke="#111" stroke-width="0.85" />
<polygon points="633.61,306.66 612.24,384.25 614.32,384.83 635.69,307.24" fill="#ececec" stroke="none" stroke-width="1" />
<line x1="633.61" y1="306.66" x2="612.24" y2="384.25" stroke="#1a1a1a" stroke-width="0.85" />
<line x1="635.69" y1="307.24" x2="614.32" y2="384.83" stroke="#1a1a1a" stroke-width="0.85" />
<polygon points="622.36,395.54 730.53,397.65 730.57,395.85 622.4,393.74" fill="#b0b0b0" stroke="none" stroke-width="1" />
<line x1="622.36" y1="395.54" x2="730.53" y2="397.65" stroke="#111" stroke-width="0.85" />
<line x1="622.4" y1="393.74" x2="730.57" y2="395.85" stroke="#111" stroke-width="0.85" />
<polygon points="684.51,354.17 661.96,436.32 664.04,436.88 686.59,354.73" fill="#ececec" stroke="none" stroke-width="1" />
<line x1="684.51" y1="354.17" x2="661.96" y2="436.32" stroke="#1a1a1a" stroke-width="0.85" />
<line x1="686.59" y1="354.73" x2="664.04" y2="436.88" stroke="#1a1a1a" stroke-width="0.85" />
<polygon points="676.35,446.45 739.35,461.2 739.85,459.1 676.85,444.35" fill="#ececec" stroke="none" stroke-width="1" />
<line x1="676.35" y1="446.45" x2="739.35" y2="461.2" stroke="#1a1a1a" stroke-width="0.85" />
<line x1="676.85" y1="444.35" x2="739.85" y2="459.1" stroke="#1a1a1a" stroke-width="0.85" />
<line x1="738.8" y1="404.55" x2="675.7" y2="491.4" stroke="#111" stroke-width="1.95" />
<polygon points="450.93,310.72 513.55,275.71 512.7,274.19 450.07,309.2" fill="#a4a4a4" stroke="none" stroke-width="1" />
<line x1="450.93" y1="310.72" x2="513.55" y2="275.71" stroke="#1c1c1c" stroke-width="0.9" />
<line x1="450.07" y1="309.2" x2="512.7" y2="274.19" stroke="#1c1c1c" stroke-width="0.9" />
<polygon points="543.92,331.6 616.19,289.81 615.31,288.29 543.04,330.08" fill="#a4a4a4" stroke="none" stroke-width="1" />
<line x1="543.92" y1="331.6" x2="616.19" y2="289.81" stroke="#1c1c1c" stroke-width="0.9" />
<line x1="543.04" y1="330.08" x2="615.31" y2="288.29" stroke="#1c1c1c" stroke-width="0.9" />
<rect x="614.45" y="287.45" width="2.6" height="2.8" fill="#111"/>
<polygon points="669.52,435.87 738.52,397.82 737.68,396.28 668.68,434.33" fill="#a4a4a4" stroke="none" stroke-width="1" />
<line x1="669.52" y1="435.87" x2="738.52" y2="397.82" stroke="#1c1c1c" stroke-width="0.9" />
<line x1="668.68" y1="434.33" x2="737.68" y2="396.28" stroke="#1c1c1c" stroke-width="0.9" />
<polygon points="440.7,306.86 449.52,308.36 449.52,394.86 440.7,394.86" fill="#fff" stroke="none" stroke-width="1" />
<rect x="446.34" y="307.86" width="2.68" height="87" fill="#d0d0d0"/>
<line x1="441.76" y1="306.86" x2="441.76" y2="394.86" stroke="#000" stroke-width="2.12" />
<line x1="446.34" y1="307.86" x2="446.34" y2="394.86" stroke="#161616" stroke-width="1.0" />
<line x1="448.87" y1="308.86" x2="448.87" y2="394.86" stroke="#000" stroke-width="1.45" />
<line x1="440.7" y1="307.16" x2="444.7" y2="306.26" stroke="#000" stroke-width="1" />
<line x1="444.7" y1="306.26" x2="449.52" y2="308.86" stroke="#000" stroke-width="0.9" />
<polygon points="440.3,394.46 444.7,397.36 450.12,395.46 449.52,394.36" fill="#bbb" stroke="#111" stroke-width="0.9" />
<polygon points="446.9,309.96 558.88,336.14 557.08,344.14 446.9,317.96" fill="#fff" stroke="none" stroke-width="1" />
<polygon points="446.9,309.96 558.88,336.14 558.38,337.94 446.9,311.76" fill="#b4b4b4" stroke="none" stroke-width="1" />
<line x1="446.9" y1="309.96" x2="558.88" y2="336.14" stroke="#111" stroke-width="1.1" />
<line x1="446.9" y1="311.76" x2="558.38" y2="337.94" stroke="#111" stroke-width="1.1" />
<line x1="446.9" y1="316.96" x2="557.08" y2="343.14" stroke="#000" stroke-width="2.3" />
<rect x="452.29" y="309.58" width="2.2" height="2.2" fill="#111"/>
<rect x="472.34" y="314.26" width="2.2" height="2.2" fill="#111"/>
<rect x="492.38" y="318.95" width="2.2" height="2.2" fill="#111"/>
<rect x="512.43" y="323.64" width="2.2" height="2.2" fill="#111"/>
<rect x="532.47" y="328.32" width="2.2" height="2.2" fill="#111"/>
<rect x="552.52" y="333.01" width="2.2" height="2.2" fill="#111"/>
<polygon points="558.88,336.44 669.6,436.3 665,442.7 556.48,345.14" fill="#fff" stroke="none" stroke-width="1" />
<line x1="558.88" y1="336.44" x2="669.6" y2="436.3" stroke="#1a1a1a" stroke-width="1.05" />
<line x1="557.98" y1="339.84" x2="667.2" y2="438.2" stroke="#000" stroke-width="1.35" />
<line x1="556.88" y1="343.64" x2="665.2" y2="441.4" stroke="#000" stroke-width="2.9" />
<rect x="668.4" y="435.4" width="1.9" height="1.9" fill="#111"/>
<line x1="558.88" y1="336.44" x2="556.48" y2="345.44" stroke="#000" stroke-width="1.2" />
<line x1="566.71" y1="343.43" x2="565.41" y2="347.23" stroke="#000" stroke-width="1.3" />
<line x1="586.08" y1="360.91" x2="584.78" y2="364.71" stroke="#000" stroke-width="1.3" />
<line x1="605.46" y1="378.38" x2="604.16" y2="382.18" stroke="#000" stroke-width="1.3" />
<line x1="624.84" y1="395.86" x2="623.54" y2="399.66" stroke="#000" stroke-width="1.3" />
<line x1="644.21" y1="413.33" x2="642.91" y2="417.13" stroke="#000" stroke-width="1.3" />
<line x1="663.59" y1="430.81" x2="662.29" y2="434.61" stroke="#000" stroke-width="1.3" />
<polygon points="666.6,438.4 670.6,437.9 675.44,440.2 675.44,525 666.6,525" fill="#fff" stroke="none" stroke-width="1" />
<line x1="667.95" y1="438.4" x2="667.95" y2="525" stroke="#000" stroke-width="2.8" />
<line x1="672.2" y1="440.4" x2="672.2" y2="526.5" stroke="#222" stroke-width="0.95" />
<line x1="675.04" y1="440.2" x2="675.04" y2="525.6" stroke="#000" stroke-width="1.0" />
<line x1="669.2" y1="438.2" x2="675.44" y2="440.2" stroke="#000" stroke-width="0.9" />
<line x1="672.2" y1="440.4" x2="675.44" y2="440.2" stroke="#000" stroke-width="0.7" />
<polygon points="666.3,524.8 671.8,527.7 675.74,526.4 675.44,524.7 666.6,524.5" fill="#ccc" stroke="#111" stroke-width="0.9" />
<polygon points="378.8,352.43 441.43,317.42 440.57,315.9 377.95,350.91" fill="#a4a4a4" stroke="none" stroke-width="1" />
<line x1="378.8" y1="352.43" x2="441.43" y2="317.42" stroke="#1c1c1c" stroke-width="0.9" />
<line x1="377.95" y1="350.91" x2="440.57" y2="315.9" stroke="#1c1c1c" stroke-width="0.9" />
<polygon points="471.65,373.39 543.92,331.6 543.04,330.08 470.77,371.87" fill="#a4a4a4" stroke="none" stroke-width="1" />
<line x1="471.65" y1="373.39" x2="543.92" y2="331.6" stroke="#1c1c1c" stroke-width="0.9" />
<line x1="470.77" y1="371.87" x2="543.04" y2="330.08" stroke="#1c1c1c" stroke-width="0.9" />
<rect x="542.18" y="329.24" width="2.6" height="2.8" fill="#111"/>
<polygon points="597.12,477.72 666.12,439.67 665.28,438.13 596.28,476.18" fill="#a4a4a4" stroke="none" stroke-width="1" />
<line x1="597.12" y1="477.72" x2="666.12" y2="439.67" stroke="#1c1c1c" stroke-width="0.9" />
<line x1="596.28" y1="476.18" x2="665.28" y2="438.13" stroke="#1c1c1c" stroke-width="0.9" />
<polygon points="368.57,348.57 377.16,350.07 377.16,436.57 368.57,436.57" fill="#fff" stroke="none" stroke-width="1" />
<rect x="373.95" y="349.57" width="2.71" height="87" fill="#d0d0d0"/>
<line x1="369.62" y1="348.57" x2="369.62" y2="436.57" stroke="#000" stroke-width="2.09" />
<line x1="373.95" y1="349.57" x2="373.95" y2="436.57" stroke="#161616" stroke-width="1.0" />
<line x1="376.51" y1="350.57" x2="376.51" y2="436.57" stroke="#000" stroke-width="1.45" />
<line x1="368.57" y1="348.87" x2="372.57" y2="347.97" stroke="#000" stroke-width="1" />
<line x1="372.57" y1="347.97" x2="377.16" y2="350.57" stroke="#000" stroke-width="0.9" />
<polygon points="368.18,436.17 372.57,439.07 377.76,437.17 377.16,436.07" fill="#bbb" stroke="#111" stroke-width="0.9" />
<polygon points="374.77,351.67 486.61,377.93 484.81,385.93 374.77,359.67" fill="#fff" stroke="none" stroke-width="1" />
<polygon points="374.77,351.67 486.61,377.93 486.11,379.73 374.77,353.47" fill="#b4b4b4" stroke="none" stroke-width="1" />
<line x1="374.77" y1="351.67" x2="486.61" y2="377.93" stroke="#111" stroke-width="1.1" />
<line x1="374.77" y1="353.47" x2="486.11" y2="379.73" stroke="#111" stroke-width="1.1" />
<line x1="374.77" y1="358.67" x2="484.81" y2="384.93" stroke="#000" stroke-width="2.3" />
<rect x="380.16" y="351.29" width="2.2" height="2.2" fill="#111"/>
<rect x="400.18" y="355.99" width="2.2" height="2.2" fill="#111"/>
<rect x="420.2" y="360.69" width="2.2" height="2.2" fill="#111"/>
<rect x="440.22" y="365.39" width="2.2" height="2.2" fill="#111"/>
<rect x="460.24" y="370.1" width="2.2" height="2.2" fill="#111"/>
<rect x="480.25" y="374.8" width="2.2" height="2.2" fill="#111"/>
<polygon points="486.61,378.23 597.2,478.15 592.6,484.55 484.21,386.93" fill="#fff" stroke="none" stroke-width="1" />
<line x1="486.61" y1="378.23" x2="597.2" y2="478.15" stroke="#1a1a1a" stroke-width="1.05" />
<line x1="485.71" y1="381.63" x2="594.8" y2="480.05" stroke="#000" stroke-width="1.35" />
<line x1="484.61" y1="385.43" x2="592.8" y2="483.25" stroke="#000" stroke-width="2.9" />
<rect x="596" y="477.25" width="1.9" height="1.9" fill="#111"/>
<line x1="486.61" y1="378.23" x2="484.21" y2="387.23" stroke="#000" stroke-width="1.2" />
<line x1="494.43" y1="385.22" x2="493.13" y2="389.02" stroke="#000" stroke-width="1.3" />
<line x1="513.78" y1="402.71" x2="512.48" y2="406.51" stroke="#000" stroke-width="1.3" />
<line x1="533.14" y1="420.2" x2="531.84" y2="424" stroke="#000" stroke-width="1.3" />
<line x1="552.49" y1="437.68" x2="551.19" y2="441.48" stroke="#000" stroke-width="1.3" />
<line x1="571.84" y1="455.17" x2="570.54" y2="458.97" stroke="#000" stroke-width="1.3" />
<line x1="591.2" y1="472.65" x2="589.9" y2="476.45" stroke="#000" stroke-width="1.3" />
<polygon points="594.2,480.25 598.2,479.75 603.18,482.05 603.18,566.85 594.2,566.85" fill="#fff" stroke="none" stroke-width="1" />
<line x1="595.55" y1="480.25" x2="595.55" y2="566.85" stroke="#000" stroke-width="2.8" />
<line x1="599.8" y1="482.25" x2="599.8" y2="568.35" stroke="#222" stroke-width="0.95" />
<line x1="602.78" y1="482.05" x2="602.78" y2="567.45" stroke="#000" stroke-width="1.0" />
<line x1="596.8" y1="480.05" x2="603.18" y2="482.05" stroke="#000" stroke-width="0.9" />
<line x1="599.8" y1="482.25" x2="603.18" y2="482.05" stroke="#000" stroke-width="0.7" />
<polygon points="593.9,566.65 599.4,569.55 603.48,568.25 603.18,566.55 594.2,566.35" fill="#ccc" stroke="#111" stroke-width="0.9" />
<polygon points="306.68,394.14 369.3,359.13 368.45,357.61 305.82,392.62" fill="#a4a4a4" stroke="none" stroke-width="1" />
<line x1="306.68" y1="394.14" x2="369.3" y2="359.13" stroke="#1c1c1c" stroke-width="0.9" />
<line x1="305.82" y1="392.62" x2="368.45" y2="357.61" stroke="#1c1c1c" stroke-width="0.9" />
<polygon points="399.38,415.18 471.65,373.39 470.77,371.87 398.5,413.66" fill="#a4a4a4" stroke="none" stroke-width="1" />
<line x1="399.38" y1="415.18" x2="471.65" y2="373.39" stroke="#1c1c1c" stroke-width="0.9" />
<line x1="398.5" y1="413.66" x2="470.77" y2="371.87" stroke="#1c1c1c" stroke-width="0.9" />
<rect x="469.91" y="371.03" width="2.6" height="2.8" fill="#111"/>
<polygon points="524.72,519.57 593.72,481.52 592.88,479.98 523.88,518.03" fill="#a4a4a4" stroke="none" stroke-width="1" />
<line x1="524.72" y1="519.57" x2="593.72" y2="481.52" stroke="#1c1c1c" stroke-width="0.9" />
<line x1="523.88" y1="518.03" x2="592.88" y2="479.98" stroke="#1c1c1c" stroke-width="0.9" />
<polygon points="296.45,390.28 304.81,391.78 304.81,478.28 296.45,478.28" fill="#fff" stroke="none" stroke-width="1" />
<rect x="301.57" y="391.28" width="2.74" height="87" fill="#d0d0d0"/>
<line x1="297.48" y1="390.28" x2="297.48" y2="478.28" stroke="#000" stroke-width="2.06" />
<line x1="301.57" y1="391.28" x2="301.57" y2="478.28" stroke="#161616" stroke-width="1.0" />
<line x1="304.16" y1="392.28" x2="304.16" y2="478.28" stroke="#000" stroke-width="1.45" />
<line x1="296.45" y1="390.58" x2="300.45" y2="389.68" stroke="#000" stroke-width="1" />
<line x1="300.45" y1="389.68" x2="304.81" y2="392.28" stroke="#000" stroke-width="0.9" />
<polygon points="296.05,477.88 300.45,480.78 305.41,478.88 304.81,477.78" fill="#bbb" stroke="#111" stroke-width="0.9" />
<polygon points="302.65,393.38 414.34,419.72 412.54,427.72 302.65,401.38" fill="#fff" stroke="none" stroke-width="1" />
<polygon points="302.65,393.38 414.34,419.72 413.84,421.52 302.65,395.18" fill="#b4b4b4" stroke="none" stroke-width="1" />
<line x1="302.65" y1="393.38" x2="414.34" y2="419.72" stroke="#111" stroke-width="1.1" />
<line x1="302.65" y1="395.18" x2="413.84" y2="421.52" stroke="#111" stroke-width="1.1" />
<line x1="302.65" y1="400.38" x2="412.54" y2="426.72" stroke="#000" stroke-width="2.3" />
<rect x="308.03" y="393.01" width="2.2" height="2.2" fill="#111"/>
<rect x="328.02" y="397.72" width="2.2" height="2.2" fill="#111"/>
<rect x="348.01" y="402.44" width="2.2" height="2.2" fill="#111"/>
<rect x="368.01" y="407.15" width="2.2" height="2.2" fill="#111"/>
<rect x="388" y="411.87" width="2.2" height="2.2" fill="#111"/>
<rect x="407.99" y="416.58" width="2.2" height="2.2" fill="#111"/>
<polygon points="414.34,420.02 524.8,520 520.2,526.4 411.94,428.72" fill="#fff" stroke="none" stroke-width="1" />
<line x1="414.34" y1="420.02" x2="524.8" y2="520" stroke="#1a1a1a" stroke-width="1.05" />
<line x1="413.44" y1="423.42" x2="522.4" y2="521.9" stroke="#000" stroke-width="1.35" />
<line x1="412.34" y1="427.22" x2="520.4" y2="525.1" stroke="#000" stroke-width="2.9" />
<rect x="523.6" y="519.1" width="1.9" height="1.9" fill="#111"/>
<line x1="414.34" y1="420.02" x2="411.94" y2="429.02" stroke="#000" stroke-width="1.2" />
<line x1="422.15" y1="427.02" x2="420.85" y2="430.82" stroke="#000" stroke-width="1.3" />
<line x1="441.48" y1="444.52" x2="440.18" y2="448.32" stroke="#000" stroke-width="1.3" />
<line x1="460.81" y1="462.01" x2="459.51" y2="465.81" stroke="#000" stroke-width="1.3" />
<line x1="480.14" y1="479.51" x2="478.84" y2="483.31" stroke="#000" stroke-width="1.3" />
<line x1="499.47" y1="497" x2="498.17" y2="500.8" stroke="#000" stroke-width="1.3" />
<line x1="518.8" y1="514.5" x2="517.5" y2="518.3" stroke="#000" stroke-width="1.3" />
<polygon points="521.8,522.1 525.8,521.6 530.92,523.9 530.92,608.7 521.8,608.7" fill="#fff" stroke="none" stroke-width="1" />
<line x1="523.15" y1="522.1" x2="523.15" y2="608.7" stroke="#000" stroke-width="2.8" />
<line x1="527.4" y1="524.1" x2="527.4" y2="610.2" stroke="#222" stroke-width="0.95" />
<line x1="530.52" y1="523.9" x2="530.52" y2="609.3" stroke="#000" stroke-width="1.0" />
<line x1="524.4" y1="521.9" x2="530.92" y2="523.9" stroke="#000" stroke-width="0.9" />
<line x1="527.4" y1="524.1" x2="530.92" y2="523.9" stroke="#000" stroke-width="0.7" />
<polygon points="521.5,608.5 527,611.4 531.22,610.1 530.92,608.4 521.8,608.2" fill="#ccc" stroke="#111" stroke-width="0.9" />
<polygon points="234.55,435.85 297.18,400.84 296.32,399.32 233.7,434.33" fill="#a4a4a4" stroke="none" stroke-width="1" />
<line x1="234.55" y1="435.85" x2="297.18" y2="400.84" stroke="#1c1c1c" stroke-width="0.9" />
<line x1="233.7" y1="434.33" x2="296.32" y2="399.32" stroke="#1c1c1c" stroke-width="0.9" />
<polygon points="327.11,456.97 399.38,415.18 398.5,413.66 326.23,455.45" fill="#a4a4a4" stroke="none" stroke-width="1" />
<line x1="327.11" y1="456.97" x2="399.38" y2="415.18" stroke="#1c1c1c" stroke-width="0.9" />
<line x1="326.23" y1="455.45" x2="398.5" y2="413.66" stroke="#1c1c1c" stroke-width="0.9" />
<rect x="397.64" y="412.82" width="2.6" height="2.8" fill="#111"/>
<polygon points="452.32,561.42 521.32,523.37 520.48,521.83 451.48,559.88" fill="#a4a4a4" stroke="none" stroke-width="1" />
<line x1="452.32" y1="561.42" x2="521.32" y2="523.37" stroke="#1c1c1c" stroke-width="0.9" />
<line x1="451.48" y1="559.88" x2="520.48" y2="521.83" stroke="#1c1c1c" stroke-width="0.9" />
<polygon points="224.32,431.99 232.45,433.49 232.45,519.99 224.32,519.99" fill="#fff" stroke="none" stroke-width="1" />
<rect x="229.19" y="432.99" width="2.77" height="87" fill="#d0d0d0"/>
<line x1="225.02" y1="431.99" x2="225.02" y2="519.99" stroke="#000" stroke-width="1.4" />
<line x1="229.19" y1="432.99" x2="229.19" y2="519.99" stroke="#161616" stroke-width="1.0" />
<line x1="231.8" y1="433.99" x2="231.8" y2="519.99" stroke="#000" stroke-width="1.45" />
<line x1="224.32" y1="432.29" x2="228.32" y2="431.39" stroke="#000" stroke-width="1" />
<line x1="228.32" y1="431.39" x2="232.45" y2="433.99" stroke="#000" stroke-width="0.9" />
<polygon points="223.92,519.59 228.32,522.49 233.05,520.59 232.45,519.49" fill="#bbb" stroke="#111" stroke-width="0.9" />
<polygon points="230.52,435.09 342.07,461.51 340.27,469.51 230.52,443.09" fill="#fff" stroke="none" stroke-width="1" />
<polygon points="230.52,435.09 342.07,461.51 341.57,463.31 230.52,436.89" fill="#b4b4b4" stroke="none" stroke-width="1" />
<line x1="230.52" y1="435.09" x2="342.07" y2="461.51" stroke="#111" stroke-width="1.1" />
<line x1="230.52" y1="436.89" x2="341.57" y2="463.31" stroke="#111" stroke-width="1.1" />
<line x1="230.52" y1="442.09" x2="340.27" y2="468.51" stroke="#000" stroke-width="2.3" />
<rect x="235.89" y="434.72" width="2.2" height="2.2" fill="#111"/>
<rect x="255.86" y="439.45" width="2.2" height="2.2" fill="#111"/>
<rect x="275.83" y="444.18" width="2.2" height="2.2" fill="#111"/>
<rect x="295.79" y="448.91" width="2.2" height="2.2" fill="#111"/>
<rect x="315.76" y="453.64" width="2.2" height="2.2" fill="#111"/>
<rect x="335.73" y="458.37" width="2.2" height="2.2" fill="#111"/>
<polygon points="342.07,461.81 452.4,561.85 447.8,568.25 339.67,470.51" fill="#fff" stroke="none" stroke-width="1" />
<line x1="342.07" y1="461.81" x2="452.4" y2="561.85" stroke="#1a1a1a" stroke-width="1.05" />
<line x1="341.17" y1="465.21" x2="450" y2="563.75" stroke="#000" stroke-width="1.35" />
<line x1="340.07" y1="469.01" x2="448" y2="566.95" stroke="#000" stroke-width="2.9" />
<rect x="451.2" y="560.95" width="1.9" height="1.9" fill="#111"/>
<line x1="342.07" y1="461.81" x2="339.67" y2="470.81" stroke="#000" stroke-width="1.2" />
<line x1="349.87" y1="468.81" x2="348.57" y2="472.61" stroke="#000" stroke-width="1.3" />
<line x1="369.18" y1="486.32" x2="367.88" y2="490.12" stroke="#000" stroke-width="1.3" />
<line x1="388.49" y1="503.83" x2="387.19" y2="507.63" stroke="#000" stroke-width="1.3" />
<line x1="407.8" y1="521.33" x2="406.5" y2="525.13" stroke="#000" stroke-width="1.3" />
<line x1="427.1" y1="538.84" x2="425.8" y2="542.64" stroke="#000" stroke-width="1.3" />
<line x1="446.41" y1="556.35" x2="445.11" y2="560.15" stroke="#000" stroke-width="1.3" />
<polygon points="449.4,563.95 453.4,563.45 458.66,565.75 458.66,650.55 449.4,650.55" fill="#fff" stroke="none" stroke-width="1" />
<line x1="450.75" y1="563.95" x2="450.75" y2="650.55" stroke="#000" stroke-width="2.8" />
<line x1="455" y1="565.95" x2="455" y2="652.05" stroke="#222" stroke-width="0.95" />
<line x1="458.26" y1="565.75" x2="458.26" y2="651.15" stroke="#000" stroke-width="1.0" />
<line x1="452" y1="563.75" x2="458.66" y2="565.75" stroke="#000" stroke-width="0.9" />
<line x1="455" y1="565.95" x2="458.66" y2="565.75" stroke="#000" stroke-width="0.7" />
<polygon points="449.1,650.35 454.6,653.25 458.96,651.95 458.66,650.25 449.4,650.05" fill="#ccc" stroke="#111" stroke-width="0.9" />
<line x1="224.32" y1="449.99" x2="161" y2="537.5" stroke="#111" stroke-width="1.95" />
<line x1="160" y1="484" x2="281.47" y2="455.21" stroke="#111" stroke-width="1.95" />
<line x1="212" y1="497" x2="331.47" y2="467.41" stroke="#111" stroke-width="1.95" />
<polygon points="234.15,442.83 211.73,490.74 213.67,491.66 236.1,443.75" fill="#ececec" stroke="none" stroke-width="1" />
<line x1="234.15" y1="442.83" x2="211.73" y2="490.74" stroke="#1a1a1a" stroke-width="0.85" />
<line x1="236.1" y1="443.75" x2="213.67" y2="491.66" stroke="#1a1a1a" stroke-width="0.85" />
<polygon points="285.49,456.46 264.32,502.75 266.28,503.65 287.45,457.36" fill="#ececec" stroke="none" stroke-width="1" />
<line x1="285.49" y1="456.46" x2="264.32" y2="502.75" stroke="#1a1a1a" stroke-width="0.85" />
<line x1="287.45" y1="457.36" x2="266.28" y2="503.65" stroke="#1a1a1a" stroke-width="0.85" />
<polygon points="278.28,515.2 392.25,517.41 392.29,515.61 278.32,513.4" fill="#b0b0b0" stroke="none" stroke-width="1" />
<line x1="278.28" y1="515.2" x2="392.25" y2="517.41" stroke="#111" stroke-width="0.85" />
<line x1="278.32" y1="513.4" x2="392.29" y2="515.61" stroke="#111" stroke-width="0.85" />
<polygon points="344.53,473.82 323.16,551.41 325.24,551.99 346.61,474.4" fill="#ececec" stroke="none" stroke-width="1" />
<line x1="344.53" y1="473.82" x2="323.16" y2="551.41" stroke="#1a1a1a" stroke-width="0.85" />
<line x1="346.61" y1="474.4" x2="325.24" y2="551.99" stroke="#1a1a1a" stroke-width="0.85" />
<polygon points="333.28,562.7 441.45,564.81 441.49,563.01 333.32,560.9" fill="#b0b0b0" stroke="none" stroke-width="1" />
<line x1="333.28" y1="562.7" x2="441.45" y2="564.81" stroke="#111" stroke-width="0.85" />
<line x1="333.32" y1="560.9" x2="441.49" y2="563.01" stroke="#111" stroke-width="0.85" />
<polygon points="395.43,521.32 372.36,603.71 374.44,604.29 397.51,521.9" fill="#ececec" stroke="none" stroke-width="1" />
<line x1="395.43" y1="521.32" x2="372.36" y2="603.71" stroke="#1a1a1a" stroke-width="0.85" />
<line x1="397.51" y1="521.9" x2="374.44" y2="604.29" stroke="#1a1a1a" stroke-width="0.85" />
<polygon points="386.75,613.85 449.75,628.6 450.25,626.5 387.25,611.75" fill="#ececec" stroke="none" stroke-width="1" />
<line x1="386.75" y1="613.85" x2="449.75" y2="628.6" stroke="#1a1a1a" stroke-width="0.85" />
<line x1="387.25" y1="611.75" x2="450.25" y2="626.5" stroke="#1a1a1a" stroke-width="0.85" />
<line x1="449.2" y1="571.95" x2="386.1" y2="658.8" stroke="#111" stroke-width="1.95" />
<polygon points="162.43,477.56 225.05,442.55 224.2,441.03 161.57,476.04" fill="#a4a4a4" stroke="none" stroke-width="1" />
<line x1="162.43" y1="477.56" x2="225.05" y2="442.55" stroke="#1c1c1c" stroke-width="0.9" />
<line x1="161.57" y1="476.04" x2="224.2" y2="441.03" stroke="#1c1c1c" stroke-width="0.9" />
<polygon points="254.84,498.76 327.11,456.97 326.23,455.45 253.96,497.24" fill="#a4a4a4" stroke="none" stroke-width="1" />
<line x1="254.84" y1="498.76" x2="327.11" y2="456.97" stroke="#1c1c1c" stroke-width="0.9" />
<line x1="253.96" y1="497.24" x2="326.23" y2="455.45" stroke="#1c1c1c" stroke-width="0.9" />
<rect x="325.37" y="454.61" width="2.6" height="2.8" fill="#111"/>
<polygon points="379.92,603.27 448.92,565.22 448.08,563.68 379.08,601.73" fill="#a4a4a4" stroke="none" stroke-width="1" />
<line x1="379.92" y1="603.27" x2="448.92" y2="565.22" stroke="#1c1c1c" stroke-width="0.9" />
<line x1="379.08" y1="601.73" x2="448.08" y2="563.68" stroke="#1c1c1c" stroke-width="0.9" />
<polygon points="152.2,473.7 160.1,475.2 160.1,561.7 152.2,561.7" fill="#fff" stroke="none" stroke-width="1" />
<rect x="156.8" y="474.7" width="2.8" height="87" fill="#d0d0d0"/>
<line x1="153.2" y1="473.7" x2="153.2" y2="561.7" stroke="#000" stroke-width="2.0" />
<line x1="156.8" y1="474.7" x2="156.8" y2="561.7" stroke="#161616" stroke-width="1.0" />
<line x1="159.45" y1="475.7" x2="159.45" y2="561.7" stroke="#000" stroke-width="1.45" />
<line x1="152.2" y1="474" x2="156.2" y2="473.1" stroke="#000" stroke-width="1" />
<line x1="156.2" y1="473.1" x2="160.1" y2="475.7" stroke="#000" stroke-width="0.9" />
<polygon points="151.8,561.3 156.2,564.2 160.7,562.3 160.1,561.2" fill="#bbb" stroke="#111" stroke-width="0.9" />
<polygon points="158.4,476.8 269.8,503.3 268,511.3 158.4,484.8" fill="#fff" stroke="none" stroke-width="1" />
<polygon points="158.4,476.8 269.8,503.3 269.3,505.1 158.4,478.6" fill="#b4b4b4" stroke="none" stroke-width="1" />
<line x1="158.4" y1="476.8" x2="269.8" y2="503.3" stroke="#111" stroke-width="1.1" />
<line x1="158.4" y1="478.6" x2="269.3" y2="505.1" stroke="#111" stroke-width="1.1" />
<line x1="158.4" y1="483.8" x2="268" y2="510.3" stroke="#000" stroke-width="2.3" />
<rect x="163.76" y="476.44" width="2.2" height="2.2" fill="#111"/>
<rect x="183.7" y="481.18" width="2.2" height="2.2" fill="#111"/>
<rect x="203.64" y="485.92" width="2.2" height="2.2" fill="#111"/>
<rect x="223.58" y="490.67" width="2.2" height="2.2" fill="#111"/>
<rect x="243.52" y="495.41" width="2.2" height="2.2" fill="#111"/>
<rect x="263.46" y="500.15" width="2.2" height="2.2" fill="#111"/>
<polygon points="269.8,503.6 380,603.7 375.4,610.1 267.4,512.3" fill="#fff" stroke="none" stroke-width="1" />
<line x1="269.8" y1="503.6" x2="380" y2="603.7" stroke="#1a1a1a" stroke-width="1.05" />
<line x1="268.9" y1="507" x2="377.6" y2="605.6" stroke="#000" stroke-width="1.35" />
<line x1="267.8" y1="510.8" x2="375.6" y2="608.8" stroke="#000" stroke-width="2.9" />
<rect x="378.8" y="602.8" width="1.9" height="1.9" fill="#111"/>
<line x1="269.8" y1="503.6" x2="267.4" y2="512.6" stroke="#000" stroke-width="1.2" />
<line x1="277.59" y1="510.61" x2="276.29" y2="514.41" stroke="#000" stroke-width="1.3" />
<line x1="296.88" y1="528.12" x2="295.58" y2="531.92" stroke="#000" stroke-width="1.3" />
<line x1="316.16" y1="545.64" x2="314.86" y2="549.44" stroke="#000" stroke-width="1.3" />
<line x1="335.45" y1="563.16" x2="334.15" y2="566.96" stroke="#000" stroke-width="1.3" />
<line x1="354.73" y1="580.68" x2="353.43" y2="584.48" stroke="#000" stroke-width="1.3" />
<line x1="374.02" y1="598.19" x2="372.72" y2="601.99" stroke="#000" stroke-width="1.3" />
<polygon points="377,605.8 381,605.3 386.4,607.6 386.4,692.4 377,692.4" fill="#fff" stroke="none" stroke-width="1" />
<line x1="378.35" y1="605.8" x2="378.35" y2="692.4" stroke="#000" stroke-width="2.8" />
<line x1="382.6" y1="607.8" x2="382.6" y2="693.9" stroke="#222" stroke-width="0.95" />
<line x1="386" y1="607.6" x2="386" y2="693" stroke="#000" stroke-width="1.0" />
<line x1="379.6" y1="605.6" x2="386.4" y2="607.6" stroke="#000" stroke-width="0.9" />
<line x1="382.6" y1="607.8" x2="386.4" y2="607.6" stroke="#000" stroke-width="0.7" />
<polygon points="376.7,692.2 382.2,695.1 386.7,693.8 386.4,692.1 377,691.9" fill="#ccc" stroke="#111" stroke-width="0.9" />
<polygon points="90.23,519.16 152.93,484.26 152.07,482.74 89.37,517.64" fill="#a4a4a4" stroke="none" stroke-width="1" />
<line x1="90.23" y1="519.16" x2="152.93" y2="484.26" stroke="#1c1c1c" stroke-width="0.9" />
<line x1="89.37" y1="517.64" x2="152.07" y2="482.74" stroke="#1c1c1c" stroke-width="0.9" />
<polygon points="184.05,541.25 254.85,498.75 253.95,497.25 183.15,539.75" fill="#a4a4a4" stroke="none" stroke-width="1" />
<line x1="184.05" y1="541.25" x2="254.85" y2="498.75" stroke="#1c1c1c" stroke-width="0.9" />
<line x1="183.15" y1="539.75" x2="253.95" y2="497.25" stroke="#1c1c1c" stroke-width="0.9" />
<rect x="181.9" y="538.8" width="2.0" height="3.6" fill="#111"/>
<rect x="253.1" y="496.4" width="2.6" height="2.8" fill="#111"/>
<polygon points="311.24,644.96 376.54,607.06 375.66,605.54 310.36,643.44" fill="#a4a4a4" stroke="none" stroke-width="1" />
<line x1="311.24" y1="644.96" x2="376.54" y2="607.06" stroke="#1c1c1c" stroke-width="0.9" />
<line x1="310.36" y1="643.44" x2="375.66" y2="605.54" stroke="#1c1c1c" stroke-width="0.9" />
<rect x="80" y="515.3" width="5.5" height="88.9" fill="#e4e4e4"/>
<line x1="80.9" y1="515.3" x2="80.9" y2="604.2" stroke="#000" stroke-width="1.8" />
<line x1="84.9" y1="515.3" x2="84.9" y2="604.2" stroke="#000" stroke-width="1.2" />
<line x1="83.25" y1="515.3" x2="83.25" y2="604.2" stroke="#555" stroke-width="0.8" />
<polygon points="79.7,603.9 82.6,605.6 85.9,604.2 85.5,603.4" fill="#555" stroke="#111" stroke-width="0.7" />
<rect x="137.2" y="534.5" width="5.2" height="102.2" fill="#e4e4e4"/>
<line x1="138.1" y1="534.5" x2="138.1" y2="636.7" stroke="#000" stroke-width="1.8" />
<line x1="141.8" y1="534.5" x2="141.8" y2="636.7" stroke="#000" stroke-width="1.2" />
<line x1="140.3" y1="534.5" x2="140.3" y2="636.7" stroke="#555" stroke-width="0.8" />
<polygon points="136.9,636.4 139.8,638.1 142.8,636.7 142.4,635.9" fill="#555" stroke="#111" stroke-width="0.7" />
<rect x="194.2" y="548.5" width="5.5" height="121.5" fill="#e4e4e4"/>
<line x1="195.1" y1="548.5" x2="195.1" y2="670" stroke="#000" stroke-width="1.8" />
<line x1="199.1" y1="548.5" x2="199.1" y2="670" stroke="#000" stroke-width="1.2" />
<line x1="197.45" y1="548.5" x2="197.45" y2="670" stroke="#555" stroke-width="0.8" />
<polygon points="193.9,669.7 196.8,671.4 200.1,670 199.7,669.2" fill="#555" stroke="#111" stroke-width="0.7" />
<rect x="251.3" y="599" width="5.7" height="104.3" fill="#e4e4e4"/>
<line x1="252.2" y1="599" x2="252.2" y2="703.3" stroke="#000" stroke-width="1.8" />
<line x1="256.4" y1="599" x2="256.4" y2="703.3" stroke="#000" stroke-width="1.2" />
<line x1="254.65" y1="599" x2="254.65" y2="703.3" stroke="#555" stroke-width="0.8" />
<polygon points="251,703 253.9,704.7 257.4,703.3 257,702.5" fill="#555" stroke="#111" stroke-width="0.7" />
<rect x="308.3" y="647.5" width="5.5" height="88.3" fill="#e4e4e4"/>
<line x1="309.2" y1="647.5" x2="309.2" y2="735.8" stroke="#000" stroke-width="1.8" />
<line x1="313.2" y1="647.5" x2="313.2" y2="735.8" stroke="#000" stroke-width="1.2" />
<line x1="311.55" y1="647.5" x2="311.55" y2="735.8" stroke="#555" stroke-width="0.8" />
<polygon points="308,735.5 310.9,737.2 314.2,735.8 313.8,735" fill="#555" stroke="#111" stroke-width="0.7" />
<polygon points="83.6,518.2 197,544.9 196.4,549.5 83.6,522" fill="#d8d8d8" stroke="none" stroke-width="1" />
<line x1="84.6" y1="518.4" x2="196" y2="544.7" stroke="#1a1a1a" stroke-width="1.45" stroke-dasharray="2.6 0.9"/>
<line x1="83.6" y1="521.6" x2="196.4" y2="549.1" stroke="#000" stroke-width="1.7" />
<polygon points="197,544.9 310,645 307.8,649.2 195.4,549.3" fill="#a2a2a2" stroke="none" stroke-width="1" />
<line x1="197" y1="544.9" x2="310" y2="645" stroke="#1a1a1a" stroke-width="1.2" />
<line x1="196.2" y1="546.8" x2="309" y2="646.9" stroke="#333" stroke-width="0.8" />
<line x1="195.6" y1="548.5" x2="308.2" y2="648.6" stroke="#000" stroke-width="1.9" />
<rect x="203.38" y="549.51" width="1.8" height="1.8" fill="#111"/>
<rect x="220.89" y="565.02" width="1.8" height="1.8" fill="#111"/>
<rect x="238.41" y="580.54" width="1.8" height="1.8" fill="#111"/>
<rect x="255.92" y="596.05" width="1.8" height="1.8" fill="#111"/>
<rect x="273.44" y="611.57" width="1.8" height="1.8" fill="#111"/>
<rect x="290.96" y="627.08" width="1.8" height="1.8" fill="#111"/>
<line x1="80" y1="515.3" x2="84.6" y2="516" stroke="#000" stroke-width="1" />
</g>
<g id="labels">
<polyline points="300,259.5 311.7,259.5 435,365.4" fill="none" stroke="#1a1a1a" stroke-width="0.9"/>
<polygon points="435.0,365.4 430.0,362.8 431.7,360.8" fill="#111"/>
<polyline points="1001,508.5 989.5,508.5 770,375.8" fill="none" stroke="#1a1a1a" stroke-width="0.9"/>
<polygon points="770.0,375.8 775.4,377.5 774.0,379.8" fill="#111"/>
<polyline points="791,570.5 778.6,570.5 674.7,504.3" fill="none" stroke="#1a1a1a" stroke-width="0.9"/>
<polygon points="674.7,504.3 680.0,506.2 678.6,508.4" fill="#111"/>
<polyline points="686.5,671.5 674.4,671.5 416.9,562.6" fill="none" stroke="#1a1a1a" stroke-width="0.9"/>
<polygon points="416.9,562.6 422.5,563.5 421.5,565.9" fill="#111"/>
<polyline points="528,721.5 516,721.5 395.9,647.2" fill="none" stroke="#1a1a1a" stroke-width="0.9"/>
<polygon points="395.9,647.2 401.3,649.0 399.9,651.2" fill="#111"/>
<polyline points="407,788.5 394.6,788.5 310.4,686.0" fill="none" stroke="#1a1a1a" stroke-width="0.9"/>
<polygon points="310.4,686.0 314.9,689.4 312.9,691.1" fill="#111"/>
<text x="157.3" y="256.7" class="l">Tussenportaal dakspant</text>
<text x="157.3" y="270.8" class="l">IPE270 (18x)</text>
<text x="1001.5" y="512.4" class="l">3 drukkokers (10x)</text>
<text x="791.5" y="575.4" class="l">Tussenportaal kolom IPE300 (18x)</text>
<text x="686.8" y="676.4" class="l">Windverband dak (12x)</text>
<text x="528.7" y="726.2" class="l">Windverband zijgevel (6x)</text>
<text x="407.6" y="786.4" class="l">Kopgevel kolommen en spanten</text>
<text x="407.6" y="800.2" class="l">IPE180 (7x)</text>
</g>
<g id="logoart">
<g id="berg-logo" fill="none" stroke-linecap="round" stroke-linejoin="round">
<!-- mountain -->
<path d="M874.6 848.4 L884 842.8 L891 838.2 L896 839.8 L903 841.2 L909 840.4 L915 841.6 L920 844.6 L928 846 L936 845 L944 847.4 L950 845.6 L956 843.2 L959.5 843.4 L964.6 845.4 L970.6 847.5 L962 848.4 L955.5 849.4 L946 850.6 L937 852.6 L934 851.2 L922 852.6 L910 851.4 L899 852.8 L889 851.8 L886 849.6 L879 849.8 Z" fill="#3b423e" stroke="none"/>
<path d="M892.4 837.2 L903 831.6 L912 826.4 L918.6 823.4 L921.4 823 L926.8 823.8 L933 827 L941.4 831.6 L946 834" stroke="#2e3431" stroke-width="0.9"/>
<path d="M946 834 L953 838 L959.5 843.4" stroke="#262b28" stroke-width="1.7"/>
<path d="M884 845.5 L896 842 L905 843.5 L897 847.5 L888 848.6 Z" fill="#454c48" stroke="none"/>
<!-- B -->
<path d="M888.8 830.2 C893 828.6 900 828.6 905.5 827.8" stroke="#47101c" stroke-width="2.2"/>
<path d="M897.2 829.4 L892.2 847.2" stroke="#47101c" stroke-width="2.2"/>
<path d="M895.6 830 L890.4 846" stroke="#2a0a12" stroke-width="0.8"/>
<path d="M897.5 829.2 C906 827 912.5 828.5 910.5 832.5 C908.8 835.8 902 837.4 896.4 838 C905 837 912.4 838.4 910.2 842.8 C908 846.8 898 848.4 890.6 847.8" stroke="#47101c" stroke-width="1.9"/>
<path d="M899 836.6 C904 835.4 908 833.6 909.4 831" stroke="#2a0a12" stroke-width="0.8"/>
<!-- E -->
<path d="M921.6 825.4 C915 826.2 910.8 829.4 912.2 832.4 C913.2 834.6 917 835.4 919.6 835.2 C913 836 907.8 839.6 908.6 843.6 C909.4 847.4 917 848 923.2 844.8" stroke="#47101c" stroke-width="2.0"/>
<path d="M919 823.6 C916 827 912 832 910.6 836" stroke="#2a0a12" stroke-width="0.9"/>
<!-- R -->
<path d="M929.6 830.4 L924.6 848" stroke="#47101c" stroke-width="2.1"/>
<path d="M922.4 831.6 C930 828.8 943.6 828 942.4 832.6 C941.4 836.2 933 837.6 927.6 838.2 C933 839.4 938 843.6 944.6 848.2" stroke="#47101c" stroke-width="1.9"/>
<path d="M924 834.4 C930 832.4 937 832.2 940.6 833.6 M923 838.6 C929 836.8 936 836.4 941 837.8" stroke="#3a0d17" stroke-width="0.9"/>
<path d="M921 850 L926.4 840.6" stroke="#2a0a12" stroke-width="1.3"/>
<!-- G -->
<path d="M961 831 C955 829.4 948.4 831.6 945.4 835.8 C942.6 839.8 943 844.6 947 846.2" stroke="#47101c" stroke-width="1.7"/>
<circle cx="961" cy="831" r="1.2" fill="#2a0a12" stroke="none"/>
<path d="M961.6 836.6 C958.6 844 953.6 851.8 948.4 855 C946.6 852 950 843.4 955.6 838.4" stroke="#47101c" stroke-width="1.4"/>
<path d="M961.6 836.6 C959 842.4 955.4 848.6 951.6 852.6" stroke="#2a0a12" stroke-width="0.8"/>
<!-- streaks -->
<path d="M923.4 849.6 L933.6 848.2 M937 852.6 L946 850.6 M928 846.6 L936 850.4 L938.4 847.6" stroke="#262b28" stroke-width="1.1"/>
<path d="M893.5 846 L906 843.2 M909.5 846.2 L921 843.4 M926 846.4 L939 844" stroke="#f4f4f4" stroke-width="0.5"/>
<text x="888.2" y="856.3" style="font-size:3.9px;font-weight:bold;letter-spacing:0.4px;fill:#222;stroke:none">HANDELSONDERNEMING</text>
</g>

</g>
</svg>
</body></html>
